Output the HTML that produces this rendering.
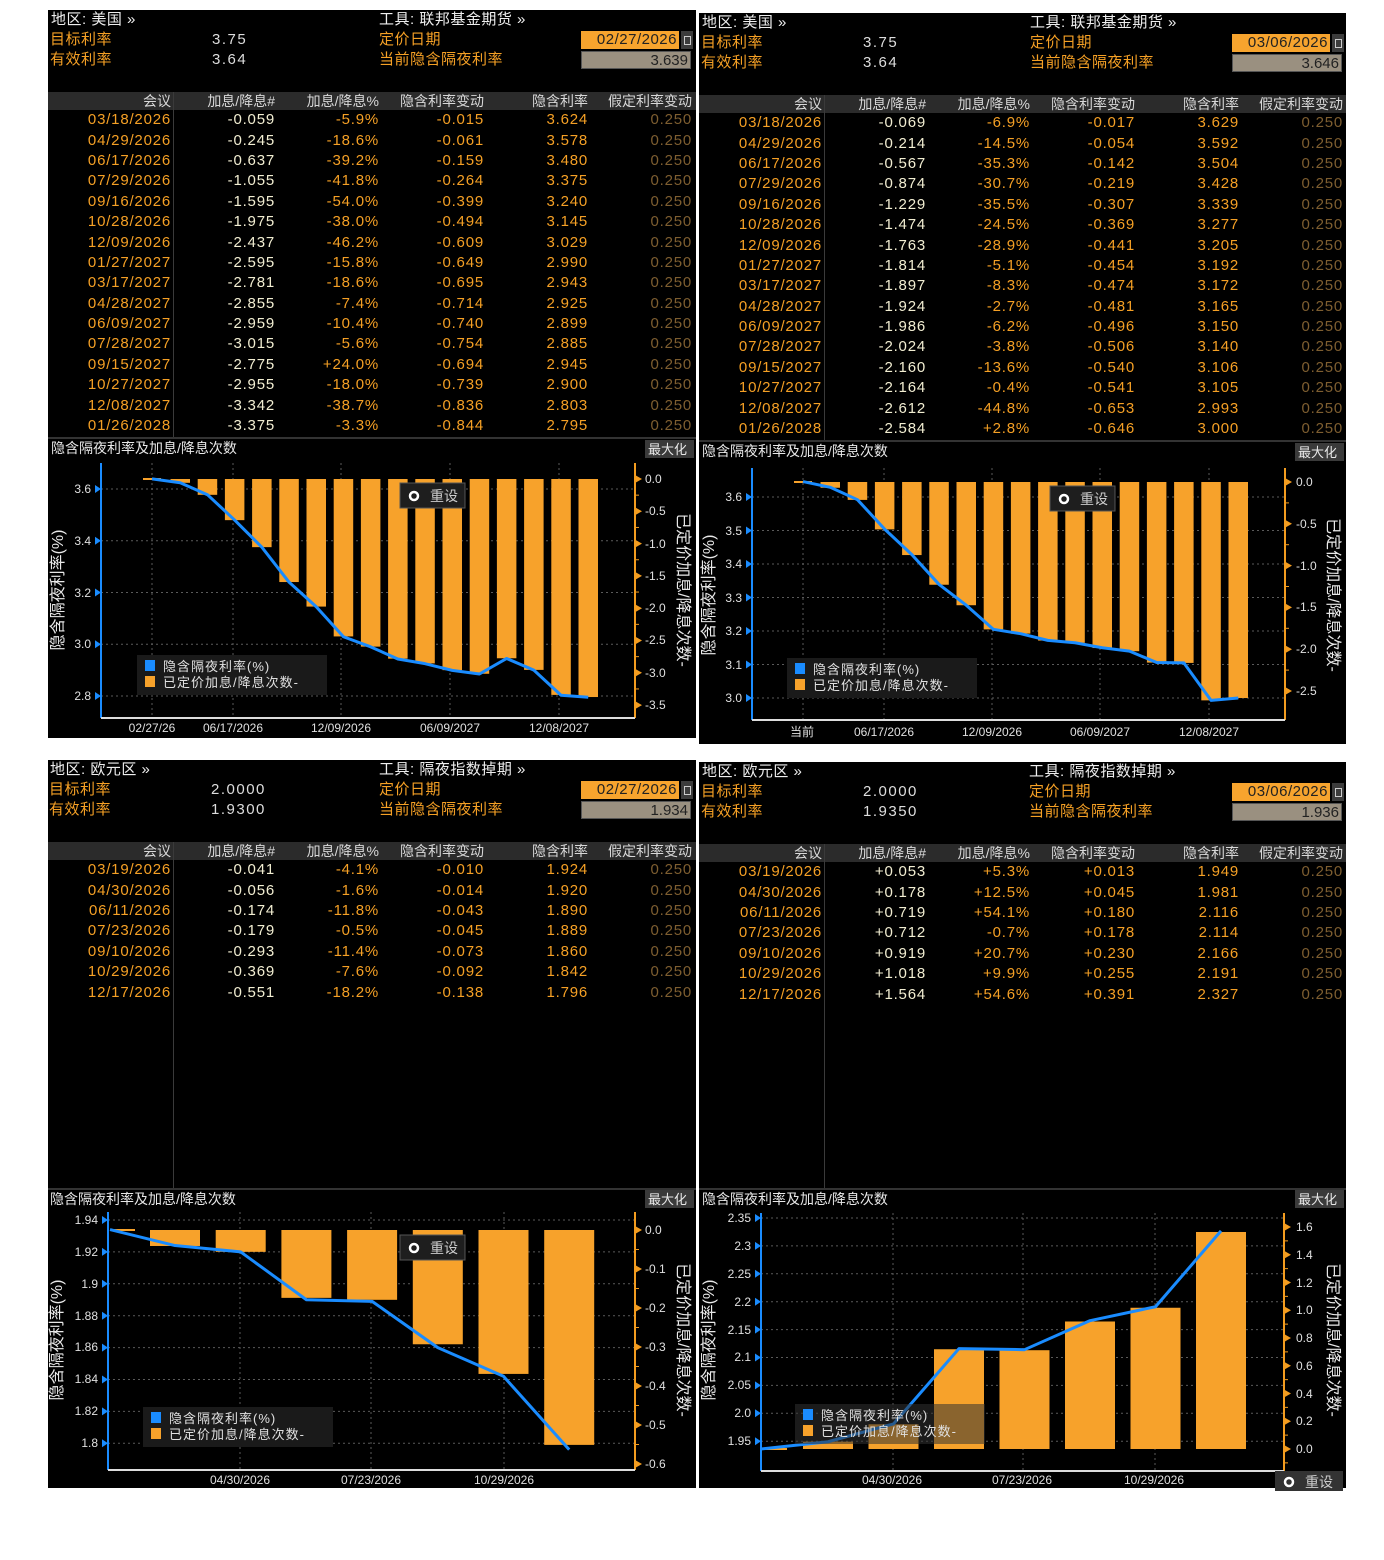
<!DOCTYPE html>
<html><head><meta charset="utf-8">
<style>
body{margin:0;width:1384px;height:1560px;background:#fff;position:relative;overflow:hidden;font-family:"Liberation Sans","Noto Sans CJK SC",sans-serif}
.p{position:absolute;background:#000;overflow:hidden}
.h{position:absolute;font-size:15px;line-height:18px;white-space:nowrap;letter-spacing:0.5px}
.w{color:#eee}.or{color:#f5a025}.v{color:#ddd;letter-spacing:1.5px}
.db{position:absolute;left:533px;top:21px;width:96px;height:18px;background:#f7a42e;color:#222;font-size:15px;line-height:18px;text-align:right;padding-right:2px;letter-spacing:0.5px}
.ic{position:absolute;left:633px;top:21px;width:12px;height:18px;background:#3c3c3c}
.ic:after{content:"";position:absolute;left:3px;top:5px;width:5px;height:7px;border:1px solid #ccc}
.vb{position:absolute;left:533px;top:41px;width:110px;height:18px;background:#9a9080;color:#222;font-size:15px;line-height:18px;text-align:right;padding-right:2px;border:1px solid #555;box-sizing:border-box}
.band{position:absolute;left:0;top:82px;width:100%;height:18px;background:#2b2b2b}
.vl{position:absolute;left:125px;top:82px;width:1px;background:#3a3a3a}
table{position:absolute;left:0;top:82px;border-collapse:collapse;table-layout:fixed}
td{height:20.4px;padding:0 2px 0 0;text-align:right;white-space:nowrap;font-size:15px;letter-spacing:0.8px;line-height:20px;overflow:hidden}
tr.hd td{height:18px;font-size:14px;color:#d8d8d8;letter-spacing:0;line-height:18px}
.d{color:#f5a025}.n{color:#f2eed2}.o{color:#f5a025}.g{color:#7e5e30}
svg{position:absolute;left:0;top:0}
svg text{font-family:"Liberation Sans","Noto Sans CJK SC",sans-serif}
</style></head><body>

<!-- TL -->
<div class="p" style="left:48px;top:10px;width:648px;height:728px">
<div class="h w" style="left:3px;top:1px">地区: 美国 »</div>
<div class="h w" style="left:331px;top:1px">工具: 联邦基金期货 »</div>
<div class="h or" style="left:2px;top:21px">目标利率</div><div class="h v" style="left:164px;top:21px">3.75</div>
<div class="h or" style="left:2px;top:41px">有效利率</div><div class="h v" style="left:164px;top:41px">3.64</div>
<div class="h or" style="left:331px;top:21px">定价日期</div><div class="h or" style="left:331px;top:41px">当前隐含隔夜利率</div>
<div class="db">02/27/2026</div><div class="ic"></div><div class="vb">3.639</div>
<div class="band"></div><div class="vl" style="height:346px"></div>
<table><colgroup><col style="width:125px"><col style="width:104px"><col style="width:104px"><col style="width:105px"><col style="width:104px"><col style="width:104px"></colgroup>
<tr class="hd"><td>会议</td><td>加息/降息#</td><td>加息/降息%</td><td>隐含利率变动</td><td>隐含利率</td><td>假定利率变动</td></tr>
<tr><td class="d">03/18/2026</td><td class="n">-0.059</td><td class="o">-5.9%</td><td class="o">-0.015</td><td class="o">3.624</td><td class="g">0.250</td></tr>
<tr><td class="d">04/29/2026</td><td class="n">-0.245</td><td class="o">-18.6%</td><td class="o">-0.061</td><td class="o">3.578</td><td class="g">0.250</td></tr>
<tr><td class="d">06/17/2026</td><td class="n">-0.637</td><td class="o">-39.2%</td><td class="o">-0.159</td><td class="o">3.480</td><td class="g">0.250</td></tr>
<tr><td class="d">07/29/2026</td><td class="n">-1.055</td><td class="o">-41.8%</td><td class="o">-0.264</td><td class="o">3.375</td><td class="g">0.250</td></tr>
<tr><td class="d">09/16/2026</td><td class="n">-1.595</td><td class="o">-54.0%</td><td class="o">-0.399</td><td class="o">3.240</td><td class="g">0.250</td></tr>
<tr><td class="d">10/28/2026</td><td class="n">-1.975</td><td class="o">-38.0%</td><td class="o">-0.494</td><td class="o">3.145</td><td class="g">0.250</td></tr>
<tr><td class="d">12/09/2026</td><td class="n">-2.437</td><td class="o">-46.2%</td><td class="o">-0.609</td><td class="o">3.029</td><td class="g">0.250</td></tr>
<tr><td class="d">01/27/2027</td><td class="n">-2.595</td><td class="o">-15.8%</td><td class="o">-0.649</td><td class="o">2.990</td><td class="g">0.250</td></tr>
<tr><td class="d">03/17/2027</td><td class="n">-2.781</td><td class="o">-18.6%</td><td class="o">-0.695</td><td class="o">2.943</td><td class="g">0.250</td></tr>
<tr><td class="d">04/28/2027</td><td class="n">-2.855</td><td class="o">-7.4%</td><td class="o">-0.714</td><td class="o">2.925</td><td class="g">0.250</td></tr>
<tr><td class="d">06/09/2027</td><td class="n">-2.959</td><td class="o">-10.4%</td><td class="o">-0.740</td><td class="o">2.899</td><td class="g">0.250</td></tr>
<tr><td class="d">07/28/2027</td><td class="n">-3.015</td><td class="o">-5.6%</td><td class="o">-0.754</td><td class="o">2.885</td><td class="g">0.250</td></tr>
<tr><td class="d">09/15/2027</td><td class="n">-2.775</td><td class="o">+24.0%</td><td class="o">-0.694</td><td class="o">2.945</td><td class="g">0.250</td></tr>
<tr><td class="d">10/27/2027</td><td class="n">-2.955</td><td class="o">-18.0%</td><td class="o">-0.739</td><td class="o">2.900</td><td class="g">0.250</td></tr>
<tr><td class="d">12/08/2027</td><td class="n">-3.342</td><td class="o">-38.7%</td><td class="o">-0.836</td><td class="o">2.803</td><td class="g">0.250</td></tr>
<tr><td class="d">01/26/2028</td><td class="n">-3.375</td><td class="o">-3.3%</td><td class="o">-0.844</td><td class="o">2.795</td><td class="g">0.250</td></tr>
</table></div>

<!-- TR -->
<div class="p" style="left:699px;top:13px;width:647px;height:731px">
<div class="h w" style="left:3px;top:1px">地区: 美国 »</div>
<div class="h w" style="left:331px;top:1px">工具: 联邦基金期货 »</div>
<div class="h or" style="left:2px;top:21px">目标利率</div><div class="h v" style="left:164px;top:21px">3.75</div>
<div class="h or" style="left:2px;top:41px">有效利率</div><div class="h v" style="left:164px;top:41px">3.64</div>
<div class="h or" style="left:331px;top:21px">定价日期</div><div class="h or" style="left:331px;top:41px">当前隐含隔夜利率</div>
<div class="db">03/06/2026</div><div class="ic"></div><div class="vb">3.646</div>
<div class="band"></div><div class="vl" style="height:346px"></div>
<table><colgroup><col style="width:125px"><col style="width:104px"><col style="width:104px"><col style="width:105px"><col style="width:104px"><col style="width:104px"></colgroup>
<tr class="hd"><td>会议</td><td>加息/降息#</td><td>加息/降息%</td><td>隐含利率变动</td><td>隐含利率</td><td>假定利率变动</td></tr>
<tr><td class="d">03/18/2026</td><td class="n">-0.069</td><td class="o">-6.9%</td><td class="o">-0.017</td><td class="o">3.629</td><td class="g">0.250</td></tr>
<tr><td class="d">04/29/2026</td><td class="n">-0.214</td><td class="o">-14.5%</td><td class="o">-0.054</td><td class="o">3.592</td><td class="g">0.250</td></tr>
<tr><td class="d">06/17/2026</td><td class="n">-0.567</td><td class="o">-35.3%</td><td class="o">-0.142</td><td class="o">3.504</td><td class="g">0.250</td></tr>
<tr><td class="d">07/29/2026</td><td class="n">-0.874</td><td class="o">-30.7%</td><td class="o">-0.219</td><td class="o">3.428</td><td class="g">0.250</td></tr>
<tr><td class="d">09/16/2026</td><td class="n">-1.229</td><td class="o">-35.5%</td><td class="o">-0.307</td><td class="o">3.339</td><td class="g">0.250</td></tr>
<tr><td class="d">10/28/2026</td><td class="n">-1.474</td><td class="o">-24.5%</td><td class="o">-0.369</td><td class="o">3.277</td><td class="g">0.250</td></tr>
<tr><td class="d">12/09/2026</td><td class="n">-1.763</td><td class="o">-28.9%</td><td class="o">-0.441</td><td class="o">3.205</td><td class="g">0.250</td></tr>
<tr><td class="d">01/27/2027</td><td class="n">-1.814</td><td class="o">-5.1%</td><td class="o">-0.454</td><td class="o">3.192</td><td class="g">0.250</td></tr>
<tr><td class="d">03/17/2027</td><td class="n">-1.897</td><td class="o">-8.3%</td><td class="o">-0.474</td><td class="o">3.172</td><td class="g">0.250</td></tr>
<tr><td class="d">04/28/2027</td><td class="n">-1.924</td><td class="o">-2.7%</td><td class="o">-0.481</td><td class="o">3.165</td><td class="g">0.250</td></tr>
<tr><td class="d">06/09/2027</td><td class="n">-1.986</td><td class="o">-6.2%</td><td class="o">-0.496</td><td class="o">3.150</td><td class="g">0.250</td></tr>
<tr><td class="d">07/28/2027</td><td class="n">-2.024</td><td class="o">-3.8%</td><td class="o">-0.506</td><td class="o">3.140</td><td class="g">0.250</td></tr>
<tr><td class="d">09/15/2027</td><td class="n">-2.160</td><td class="o">-13.6%</td><td class="o">-0.540</td><td class="o">3.106</td><td class="g">0.250</td></tr>
<tr><td class="d">10/27/2027</td><td class="n">-2.164</td><td class="o">-0.4%</td><td class="o">-0.541</td><td class="o">3.105</td><td class="g">0.250</td></tr>
<tr><td class="d">12/08/2027</td><td class="n">-2.612</td><td class="o">-44.8%</td><td class="o">-0.653</td><td class="o">2.993</td><td class="g">0.250</td></tr>
<tr><td class="d">01/26/2028</td><td class="n">-2.584</td><td class="o">+2.8%</td><td class="o">-0.646</td><td class="o">3.000</td><td class="g">0.250</td></tr>
</table></div>

<!-- BL -->
<div class="p" style="left:48px;top:760px;width:648px;height:728px">
<div class="h w" style="left:2px;top:1px">地区: 欧元区 »</div>
<div class="h w" style="left:331px;top:1px">工具: 隔夜指数掉期 »</div>
<div class="h or" style="left:1px;top:21px">目标利率</div><div class="h v" style="left:163px;top:21px">2.0000</div>
<div class="h or" style="left:1px;top:41px">有效利率</div><div class="h v" style="left:163px;top:41px">1.9300</div>
<div class="h or" style="left:331px;top:21px">定价日期</div><div class="h or" style="left:331px;top:41px">当前隐含隔夜利率</div>
<div class="db">02/27/2026</div><div class="ic"></div><div class="vb">1.934</div>
<div class="band"></div><div class="vl" style="height:346px"></div>
<table><colgroup><col style="width:125px"><col style="width:104px"><col style="width:104px"><col style="width:105px"><col style="width:104px"><col style="width:104px"></colgroup>
<tr class="hd"><td>会议</td><td>加息/降息#</td><td>加息/降息%</td><td>隐含利率变动</td><td>隐含利率</td><td>假定利率变动</td></tr>
<tr><td class="d">03/19/2026</td><td class="n">-0.041</td><td class="o">-4.1%</td><td class="o">-0.010</td><td class="o">1.924</td><td class="g">0.250</td></tr>
<tr><td class="d">04/30/2026</td><td class="n">-0.056</td><td class="o">-1.6%</td><td class="o">-0.014</td><td class="o">1.920</td><td class="g">0.250</td></tr>
<tr><td class="d">06/11/2026</td><td class="n">-0.174</td><td class="o">-11.8%</td><td class="o">-0.043</td><td class="o">1.890</td><td class="g">0.250</td></tr>
<tr><td class="d">07/23/2026</td><td class="n">-0.179</td><td class="o">-0.5%</td><td class="o">-0.045</td><td class="o">1.889</td><td class="g">0.250</td></tr>
<tr><td class="d">09/10/2026</td><td class="n">-0.293</td><td class="o">-11.4%</td><td class="o">-0.073</td><td class="o">1.860</td><td class="g">0.250</td></tr>
<tr><td class="d">10/29/2026</td><td class="n">-0.369</td><td class="o">-7.6%</td><td class="o">-0.092</td><td class="o">1.842</td><td class="g">0.250</td></tr>
<tr><td class="d">12/17/2026</td><td class="n">-0.551</td><td class="o">-18.2%</td><td class="o">-0.138</td><td class="o">1.796</td><td class="g">0.250</td></tr>
</table></div>

<!-- BR -->
<div class="p" style="left:699px;top:762px;width:647px;height:726px">
<div class="h w" style="left:3px;top:1px">地区: 欧元区 »</div>
<div class="h w" style="left:330px;top:1px">工具: 隔夜指数掉期 »</div>
<div class="h or" style="left:2px;top:21px">目标利率</div><div class="h v" style="left:164px;top:21px">2.0000</div>
<div class="h or" style="left:2px;top:41px">有效利率</div><div class="h v" style="left:164px;top:41px">1.9350</div>
<div class="h or" style="left:330px;top:21px">定价日期</div><div class="h or" style="left:330px;top:41px">当前隐含隔夜利率</div>
<div class="db">03/06/2026</div><div class="ic"></div><div class="vb">1.936</div>
<div class="band"></div><div class="vl" style="height:346px"></div>
<table><colgroup><col style="width:125px"><col style="width:104px"><col style="width:104px"><col style="width:105px"><col style="width:104px"><col style="width:104px"></colgroup>
<tr class="hd"><td>会议</td><td>加息/降息#</td><td>加息/降息%</td><td>隐含利率变动</td><td>隐含利率</td><td>假定利率变动</td></tr>
<tr><td class="d">03/19/2026</td><td class="n">+0.053</td><td class="o">+5.3%</td><td class="o">+0.013</td><td class="o">1.949</td><td class="g">0.250</td></tr>
<tr><td class="d">04/30/2026</td><td class="n">+0.178</td><td class="o">+12.5%</td><td class="o">+0.045</td><td class="o">1.981</td><td class="g">0.250</td></tr>
<tr><td class="d">06/11/2026</td><td class="n">+0.719</td><td class="o">+54.1%</td><td class="o">+0.180</td><td class="o">2.116</td><td class="g">0.250</td></tr>
<tr><td class="d">07/23/2026</td><td class="n">+0.712</td><td class="o">-0.7%</td><td class="o">+0.178</td><td class="o">2.114</td><td class="g">0.250</td></tr>
<tr><td class="d">09/10/2026</td><td class="n">+0.919</td><td class="o">+20.7%</td><td class="o">+0.230</td><td class="o">2.166</td><td class="g">0.250</td></tr>
<tr><td class="d">10/29/2026</td><td class="n">+1.018</td><td class="o">+9.9%</td><td class="o">+0.255</td><td class="o">2.191</td><td class="g">0.250</td></tr>
<tr><td class="d">12/17/2026</td><td class="n">+1.564</td><td class="o">+54.6%</td><td class="o">+0.391</td><td class="o">2.327</td><td class="g">0.250</td></tr>
</table></div>

<svg width="1384" height="1560" viewBox="0 0 1384 1560">
<g id="dyn"></g>
<g font-size="14" fill="#e8e8e8">
<!-- separators & titles -->
<rect x="48" y="437" width="648" height="2" fill="#333"/>
<rect x="699" y="440" width="647" height="2" fill="#333"/>
<rect x="48" y="1188" width="648" height="2" fill="#333"/>
<rect x="699" y="1188" width="647" height="2" fill="#333"/>
<text x="51" y="453">隐含隔夜利率及加息/降息次数</text>
<text x="702" y="456">隐含隔夜利率及加息/降息次数</text>
<text x="50" y="1204">隐含隔夜利率及加息/降息次数</text>
<text x="702" y="1204">隐含隔夜利率及加息/降息次数</text>
<rect x="645" y="440" width="49" height="18" fill="#3a3a3a"/><text x="648" y="454" font-size="13">最大化</text>
<rect x="1295" y="443" width="49" height="18" fill="#3a3a3a"/><text x="1298" y="457" font-size="13">最大化</text>
<rect x="645" y="1190" width="49" height="18" fill="#3a3a3a"/><text x="648" y="1204" font-size="13">最大化</text>
<rect x="1295" y="1190" width="49" height="18" fill="#3a3a3a"/><text x="1298" y="1204" font-size="13">最大化</text>
</g>
<!-- tick labels -->
<g font-size="12" fill="#e0e0e0" text-anchor="end">
<text x="91" y="493">3.6</text><text x="91" y="545">3.4</text><text x="91" y="597">3.2</text><text x="91" y="648">3.0</text><text x="91" y="700">2.8</text>
<text x="742" y="501">3.6</text><text x="742" y="535">3.5</text><text x="742" y="568">3.4</text><text x="742" y="602">3.3</text><text x="742" y="635">3.2</text><text x="742" y="669">3.1</text><text x="742" y="702">3.0</text>
<text x="98" y="1224">1.94</text><text x="98" y="1256">1.92</text><text x="98" y="1288">1.9</text><text x="98" y="1320">1.88</text><text x="98" y="1351">1.86</text><text x="98" y="1383">1.84</text><text x="98" y="1415">1.82</text><text x="98" y="1447">1.8</text>
<text x="751" y="1222">2.35</text><text x="751" y="1250">2.3</text><text x="751" y="1278">2.25</text><text x="751" y="1306">2.2</text><text x="751" y="1334">2.15</text><text x="751" y="1361">2.1</text><text x="751" y="1389">2.05</text><text x="751" y="1417">2.0</text><text x="751" y="1445">1.95</text>
</g>
<g font-size="12" fill="#e0e0e0">
<text x="645" y="483">0.0</text><text x="645" y="515">-0.5</text><text x="645" y="548">-1.0</text><text x="645" y="580">-1.5</text><text x="645" y="612">-2.0</text><text x="645" y="644">-2.5</text><text x="645" y="677">-3.0</text><text x="645" y="709">-3.5</text>
<text x="1296" y="486">0.0</text><text x="1296" y="528">-0.5</text><text x="1296" y="570">-1.0</text><text x="1296" y="611">-1.5</text><text x="1296" y="653">-2.0</text><text x="1296" y="695">-2.5</text>
<text x="645" y="1234">0.0</text><text x="645" y="1273">-0.1</text><text x="645" y="1312">-0.2</text><text x="645" y="1351">-0.3</text><text x="645" y="1390">-0.4</text><text x="645" y="1429">-0.5</text><text x="645" y="1468">-0.6</text>
<text x="1296" y="1453">0.0</text><text x="1296" y="1425">0.2</text><text x="1296" y="1398">0.4</text><text x="1296" y="1370">0.6</text><text x="1296" y="1342">0.8</text><text x="1296" y="1314">1.0</text><text x="1296" y="1287">1.2</text><text x="1296" y="1259">1.4</text><text x="1296" y="1231">1.6</text>
</g>
<g font-size="12" fill="#e0e0e0" text-anchor="middle">
<text x="152" y="732">02/27/26</text><text x="233" y="732">06/17/2026</text><text x="341" y="732">12/09/2026</text><text x="450" y="732">06/09/2027</text><text x="559" y="732">12/08/2027</text>
<text x="802" y="736">当前</text><text x="884" y="736">06/17/2026</text><text x="992" y="736">12/09/2026</text><text x="1100" y="736">06/09/2027</text><text x="1209" y="736">12/08/2027</text>
<text x="240" y="1484">04/30/2026</text><text x="371" y="1484">07/23/2026</text><text x="504" y="1484">10/29/2026</text>
<text x="892" y="1484">04/30/2026</text><text x="1022" y="1484">07/23/2026</text><text x="1154" y="1484">10/29/2026</text>
</g>
<!-- axis titles -->
<g font-size="16" fill="#e8e8e8" text-anchor="middle">
<text transform="translate(63,590) rotate(-90)">隐含隔夜利率(%)</text>
<text transform="translate(678,590) rotate(90)">已定价加息/降息次数-</text>
<text transform="translate(714,595) rotate(-90)">隐含隔夜利率(%)</text>
<text transform="translate(1328,595) rotate(90)">已定价加息/降息次数-</text>
<text transform="translate(62,1340) rotate(-90)">隐含隔夜利率(%)</text>
<text transform="translate(678,1340) rotate(90)">已定价加息/降息次数-</text>
<text transform="translate(714,1340) rotate(-90)">隐含隔夜利率(%)</text>
<text transform="translate(1328,1340) rotate(90)">已定价加息/降息次数-</text>
</g>
<!-- legends -->
<g font-size="13" fill="#e0e0e0" letter-spacing="1">
<rect x="137" y="655" width="190" height="40" fill="#1a1a1a"/>
<rect x="145" y="660" width="10" height="11" fill="#1a8cff"/><text x="163" y="671">隐含隔夜利率(%)</text>
<rect x="145" y="676" width="10" height="11" fill="#f7a22b"/><text x="163" y="687">已定价加息/降息次数-</text>
<rect x="787" y="658" width="190" height="40" fill="#1a1a1a"/>
<rect x="795" y="663" width="10" height="11" fill="#1a8cff"/><text x="813" y="674">隐含隔夜利率(%)</text>
<rect x="795" y="679" width="10" height="11" fill="#f7a22b"/><text x="813" y="690">已定价加息/降息次数-</text>
<rect x="143" y="1407" width="190" height="40" fill="#1a1a1a"/>
<rect x="151" y="1412" width="10" height="11" fill="#1a8cff"/><text x="169" y="1423">隐含隔夜利率(%)</text>
<rect x="151" y="1428" width="10" height="11" fill="#f7a22b"/><text x="169" y="1439">已定价加息/降息次数-</text>
<rect x="795" y="1404" width="190" height="40" fill="rgba(50,50,50,0.55)"/>
<rect x="803" y="1409" width="10" height="11" fill="#1a8cff"/><text x="821" y="1420">隐含隔夜利率(%)</text>
<rect x="803" y="1425" width="10" height="11" fill="#f7a22b"/><text x="821" y="1436">已定价加息/降息次数-</text>
</g>
<!-- reset buttons -->
<g font-size="14" fill="#ccc">
<rect x="400" y="483" width="65" height="25" fill="#1e1e1e" stroke="#555"/><circle cx="414" cy="496" r="4" fill="none" stroke="#fff" stroke-width="2.5"/><text x="430" y="501">重设</text>
<rect x="1050" y="486" width="65" height="25" fill="#1e1e1e" stroke="#555"/><circle cx="1064" cy="499" r="4" fill="none" stroke="#fff" stroke-width="2.5"/><text x="1080" y="504">重设</text>
<rect x="400" y="1235" width="65" height="25" fill="#1e1e1e" stroke="#555"/><circle cx="414" cy="1248" r="4" fill="none" stroke="#fff" stroke-width="2.5"/><text x="430" y="1253">重设</text>
<rect x="1275" y="1471" width="68" height="20" fill="#333"/><circle cx="1289" cy="1482" r="4" fill="none" stroke="#fff" stroke-width="2.5"/><text x="1305" y="1487">重设</text>
</g>
</svg>

<script>
(function(){
var NS="http://www.w3.org/2000/svg",g=document.getElementById("dyn");
function el(n,a){var e=document.createElementNS(NS,n);for(var k in a)e.setAttribute(k,a[k]);g.appendChild(e);return e;}
function chart(c){
  var yL=function(v){return c.l0+(c.lv-v)*c.ls;}, yR=function(v){return c.r0-v*c.rs;};
  c.lt.forEach(function(v){var y=yL(v);el("line",{x1:c.lx,x2:c.rx,y1:y,y2:y,stroke:"#5a5a5a","stroke-dasharray":"2,3"});
    el("path",{d:"M"+(c.lx-6)+","+(y-4)+"L"+c.lx+","+y+"L"+(c.lx-6)+","+(y+4)+"Z",fill:"#1a8cff"});});
  c.rt.forEach(function(v){var y=yR(v);el("path",{d:"M"+c.rx+","+(y-4)+"L"+(c.rx+7)+","+y+"L"+c.rx+","+(y+4)+"Z",fill:"#f39c1f"});
    var y2=yR(v-c.rstep/2);if(y2>c.top&&y2<c.bot)el("line",{x1:c.rx,x2:c.rx+4,y1:y2,y2:y2,stroke:"#f39c1f"});});
  c.vg.forEach(function(x){el("line",{x1:x,x2:x,y1:c.top,y2:c.bot,stroke:"#5a5a5a","stroke-dasharray":"2,3"});});
  el("rect",{x:c.tiny[0],y:yR(0)-1,width:c.tiny[1],height:2,fill:"#f7a22b"});
  var pts=[[c.sx,yL(c.sv)]];
  c.b.forEach(function(v,i){var x=c.bx+i*c.bs,y0=yR(0),y1=yR(v);
    el("rect",{x:x,y:Math.min(y0,y1),width:c.bw,height:Math.max(1,Math.abs(y1-y0)),fill:"#f7a22b"});
    pts.push([x+c.bw/2,yL(c.r[i])]);});
  el("polyline",{points:pts.map(function(p){return p.join(",")}).join(" "),fill:"none",stroke:"#1a8cff","stroke-width":3,"stroke-linejoin":"round"});
  el("line",{x1:c.lx,x2:c.lx,y1:c.top,y2:c.bot,stroke:"#1a8cff","stroke-width":2});
  el("line",{x1:c.rx,x2:c.rx,y1:c.top,y2:c.bot,stroke:"#f39c1f","stroke-width":2});
  el("line",{x1:c.lx,x2:c.rx,y1:c.bot,y2:c.bot,stroke:"#ddd","stroke-width":2});
}
chart({lx:101,rx:635,top:463,bot:718,l0:489,lv:3.6,ls:258.75,r0:479,rs:64.6,rstep:-0.5,
 lt:[3.6,3.4,3.2,3.0,2.8],rt:[0,-0.5,-1,-1.5,-2,-2.5,-3,-3.5],vg:[152,233,341,450,559],tiny:[143,18],
 sx:152,sv:3.639,bx:170.5,bs:27.2,bw:19.5,
 b:[-0.059,-0.245,-0.637,-1.055,-1.595,-1.975,-2.437,-2.595,-2.781,-2.855,-2.959,-3.015,-2.775,-2.955,-3.342,-3.375],
 r:[3.624,3.578,3.480,3.375,3.240,3.145,3.029,2.990,2.943,2.925,2.899,2.885,2.945,2.900,2.803,2.795]});
chart({lx:752,rx:1285,top:468,bot:720,l0:497,lv:3.6,ls:335,r0:482,rs:83.6,rstep:-0.5,
 lt:[3.6,3.5,3.4,3.3,3.2,3.1,3.0],rt:[0,-0.5,-1,-1.5,-2,-2.5],vg:[803,884,992,1100,1209],tiny:[794,18],
 sx:803,sv:3.646,bx:820.5,bs:27.2,bw:19.5,
 b:[-0.069,-0.214,-0.567,-0.874,-1.229,-1.474,-1.763,-1.814,-1.897,-1.924,-1.986,-2.024,-2.160,-2.164,-2.612,-2.584],
 r:[3.629,3.592,3.504,3.428,3.339,3.277,3.205,3.192,3.172,3.165,3.150,3.140,3.106,3.105,2.993,3.000]});
chart({lx:108,rx:635,top:1212,bot:1470,l0:1220,lv:1.94,ls:1595,r0:1230,rs:390,rstep:-0.1,
 lt:[1.94,1.92,1.9,1.88,1.86,1.84,1.82,1.8],rt:[0,-0.1,-0.2,-0.3,-0.4,-0.5,-0.6],vg:[240,371,504],tiny:[113,22],
 sx:110,sv:1.934,bx:150,bs:65.7,bw:50,
 b:[-0.041,-0.056,-0.174,-0.179,-0.293,-0.369,-0.551],r:[1.924,1.920,1.890,1.889,1.860,1.842,1.796]});
chart({lx:761,rx:1284,top:1213,bot:1471,l0:1218,lv:2.35,ls:558,r0:1449,rs:138.75,rstep:0.2,
 lt:[2.35,2.3,2.25,2.2,2.15,2.1,2.05,2.0,1.95],rt:[0,0.2,0.4,0.6,0.8,1.0,1.2,1.4,1.6],vg:[893,1023,1155],tiny:[763,24],
 sx:761,sv:1.936,bx:803,bs:65.5,bw:50,
 b:[0.053,0.178,0.719,0.712,0.919,1.018,1.564],r:[1.949,1.981,2.116,2.114,2.166,2.191,2.327]});
})();
</script>
</body></html>
